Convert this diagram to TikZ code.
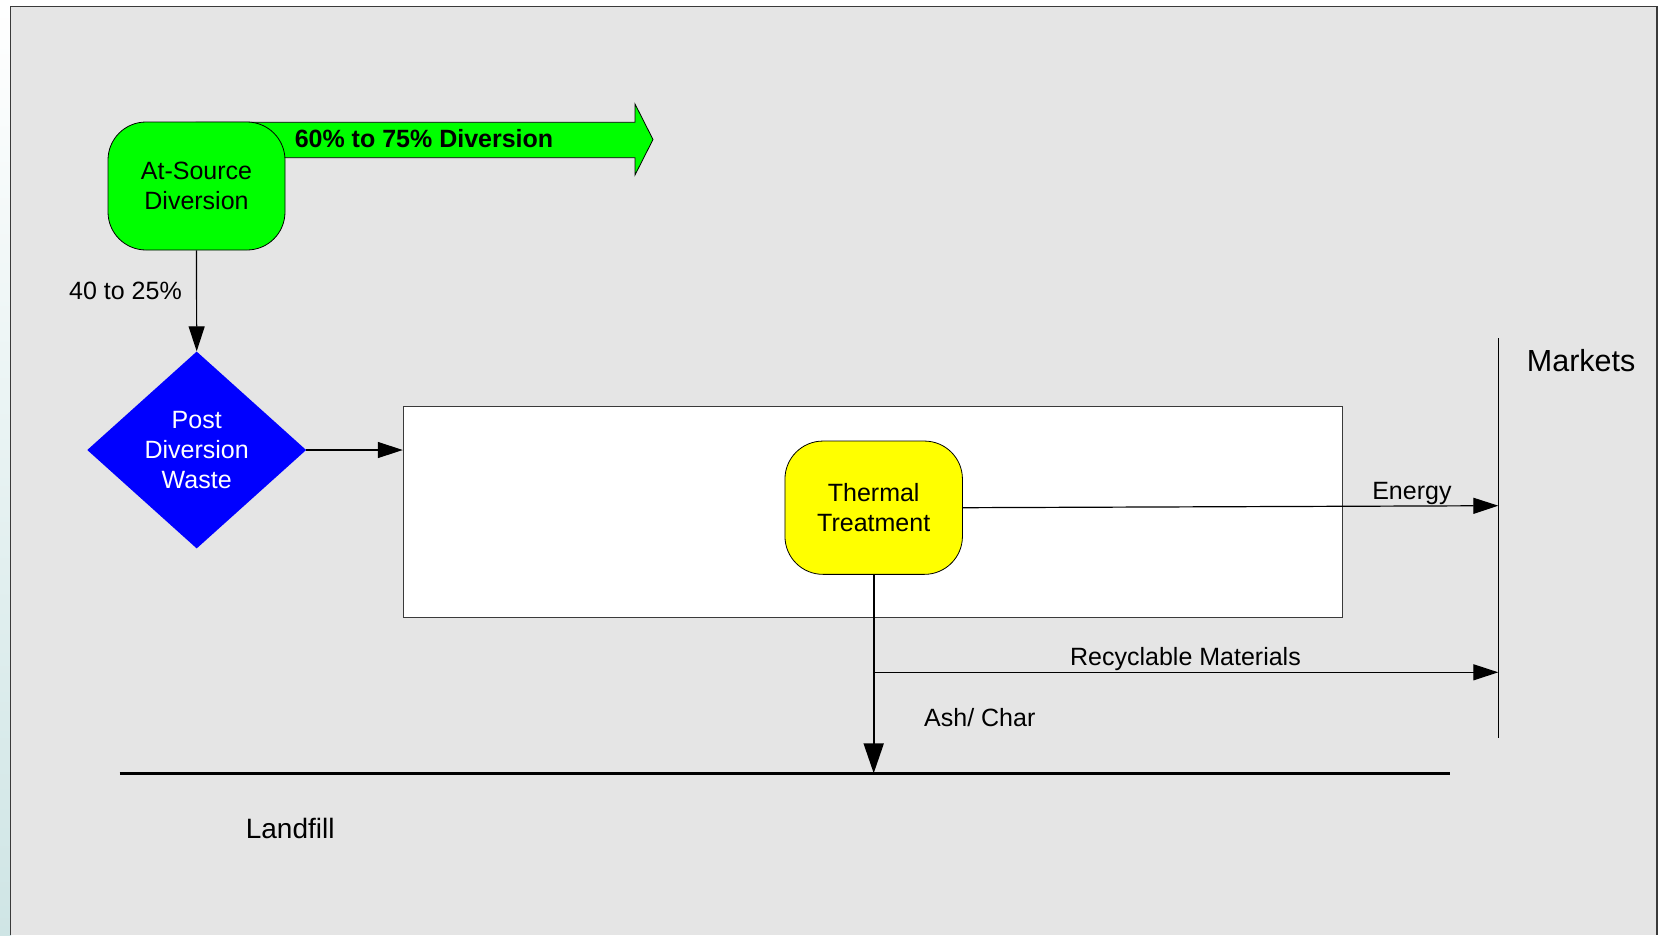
\documentclass[tikz,border=0pt]{standalone}
\usepackage{fontspec}
\setmainfont{Liberation Sans}
\usetikzlibrary{arrows.meta,shapes.geometric}
\definecolor{panelgray}{HTML}{E5E5E5}
\definecolor{stripcol}{HTML}{CFE5E5}
\definecolor{bordergray}{HTML}{3A3A3A}
\definecolor{vgreen}{HTML}{00FF00}
\definecolor{vyellow}{HTML}{FFFF00}
\definecolor{vblue}{HTML}{0000FF}
\tikzset{
  txt/.style={font=\fontsize{25}{30}\selectfont, inner sep=0pt},
  roundbox/.style={draw=black, line width=0.8pt, rounded corners=38pt, align=center, inner sep=0pt,
    font=\fontsize{25}{30}\selectfont},
  arr/.style={-{Triangle[length=25pt,width=16pt]}, line width=1.2pt},
  bigarr/.style={-{Triangle[length=30pt,width=20pt]}, line width=2pt},
  plain/.style={line width=1.2pt},
}
\begin{document}
\begin{tikzpicture}[x=1pt,y=-1pt]
\useasboundingbox (0,0) rectangle (1660,935);
% background
\fill[white] (0,0) rectangle (1660,935);
\shade[top color=white,bottom color=stripcol] (0,0) rectangle (11,935);
\fill[panelgray] (10.7,6.7) rectangle (1657,935);
\draw[bordergray, line width=1.3pt] (10.7,935) -- (10.7,6.7) -- (1657,6.7) -- (1657,935);

% big green arrow
\draw[fill=vgreen, line width=0.8pt] (196,122.3) -- (635,122.3) -- (635,104) -- (653,139.5)
  -- (635,175) -- (635,157.7) -- (196,157.7) -- cycle;
\node[font=\bfseries\fontsize{25}{30}\selectfont, inner sep=0pt, anchor=base] (divlbl) at (424,147.3) {60\% to 75\% Diversion};

% at-source box
\node[roundbox, fill=vgreen, minimum width=177pt, minimum height=128pt] (src) at (196.5,186) {At-Source\\Diversion};

% diamond
\node[diamond, fill=vblue, aspect=1, inner sep=0pt, minimum width=219pt, minimum height=197pt,
  text=white, align=center, font=\fontsize{25}{30}\selectfont] (pdw) at (196.7,450) {Post\\Diversion\\Waste};

\draw[arr] (src.south) -- (pdw.north);
\node[txt, anchor=base west] (pct) at (69,299) {40 to 25\%};

% white process box
\node[draw=bordergray, fill=white, line width=1pt, minimum width=939pt, minimum height=211.7pt, inner sep=0pt] (box) at (872.8,511.85) {};
\draw[arr] (pdw.east) -- (pdw.east -| box.west);

% thermal treatment
\node[roundbox, fill=vyellow, minimum width=177.5pt, minimum height=133.3pt] (tt) at (873.7,507.7) {Thermal\\Treatment};

% markets
\coordinate (mtop) at (1498.3,338);
\coordinate (mbot) at (1498.3,738);
\draw[plain] (mtop) -- (mbot);
\node[font=\fontsize{30.5}{36}\selectfont, inner sep=0pt, anchor=base west] (mkt) at (1526.7,371) {Markets};

% energy
\coordinate (mE) at (1498.3,505.7);
\draw[arr] (tt.east) -- (mE);
\node[txt, anchor=base] (en) at (1411.9,499.3) {Energy};

% ash / recyclables
\coordinate (ash) at (873.7,773.3);
\coordinate (rj) at (873.7,672.3);
\coordinate (mR) at (1498.3,672.3);
\draw[bigarr] (tt.south) -- (ash);
\draw[arr] (rj) -- (mR);
\node[txt, anchor=base] (rec) at (1185.5,665) {Recyclable Materials};
\node[txt, anchor=base west] (ac) at (924,726.7) {Ash/ Char};

% landfill
\coordinate (lfL) at (119.6,773.3);
\coordinate (lfR) at (1450.3,773.3);
\draw[line width=2.8pt] (lfL) -- (lfR);
\node[font=\fontsize{28}{33}\selectfont, inner sep=0pt, anchor=base west] (lf) at (245.6,838.3) {Landfill};
\end{tikzpicture}
\end{document}
